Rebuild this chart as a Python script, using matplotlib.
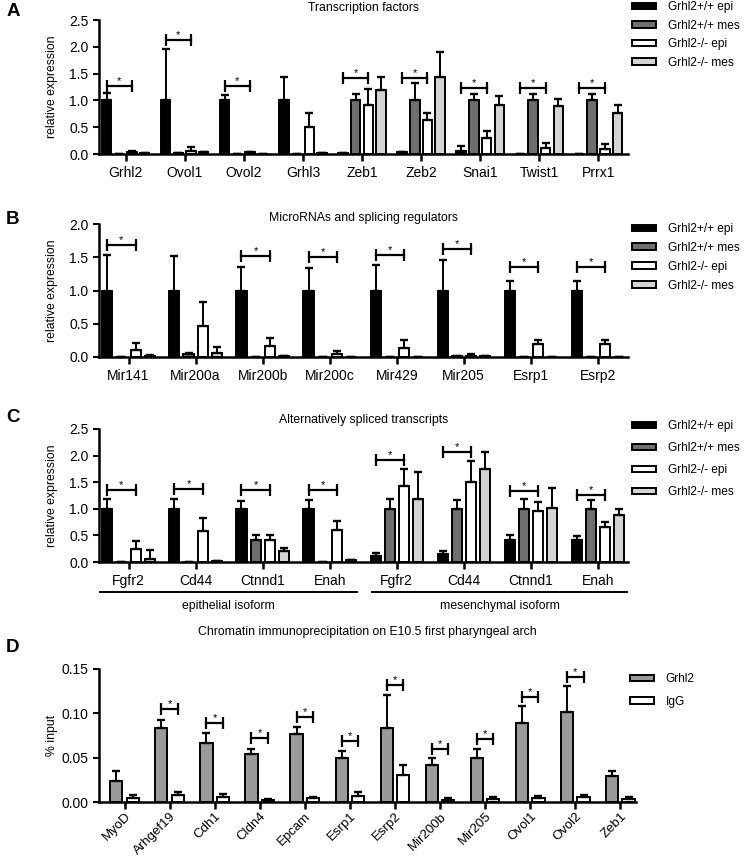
import numpy as np
import matplotlib
matplotlib.use("Agg")
import matplotlib.pyplot as plt

plt.rcParams['font.family'] = ['Liberation Sans', 'DejaVu Sans']

# ---------------- data ----------------
series_names = ['Grhl2+/+ epi', 'Grhl2+/+ mes', 'Grhl2-/- epi', 'Grhl2-/- mes']
series_colors = ['#000000', '#6e6e6e', '#ffffff', '#d4d4d4']

# A - transcription factors
a_labels = ['Grhl2', 'Ovol1', 'Ovol2', 'Grhl3', 'Zeb1', 'Zeb2', 'Snai1', 'Twist1', 'Prrx1']
a_epi_wt = [1.0, 1.0, 1.0, 1.0, 0.01, 0.03, 0.065, 0.005, 0.005]
a_epi_wt_err = [0.13, 0.95, 0.10, 0.43, 0.005, 0.01, 0.075, 0.0, 0.0]
a_mes_wt = [0.005, 0.02, 0.0, 0.0, 1.0, 1.0, 1.0, 1.0, 1.0]
a_mes_wt_err = [0.0, 0.005, 0.0, 0.0, 0.12, 0.33, 0.12, 0.12, 0.12]
a_epi_ko = [0.045, 0.05, 0.03, 0.51, 0.91, 0.63, 0.29, 0.115, 0.10]
a_epi_ko_err = [0.01, 0.08, 0.005, 0.26, 0.31, 0.13, 0.14, 0.085, 0.08]
a_mes_ko = [0.01, 0.03, 0.005, 0.02, 1.19, 1.43, 0.91, 0.90, 0.76]
a_mes_ko_err = [0.0, 0.005, 0.0, 0.005, 0.25, 0.47, 0.17, 0.12, 0.16]
a_sig = [1.26, 2.13, 1.26, None, 1.42, 1.42, 1.23, 1.23, 1.23]

# B - microRNAs and splicing regulators
b_labels = ['Mir141', 'Mir200a', 'Mir200b', 'Mir200c', 'Mir429', 'Mir205', 'Esrp1', 'Esrp2']
b_epi_wt = [1.0, 1.0, 1.0, 1.0, 1.0, 1.0, 1.0, 1.0]
b_epi_wt_err = [0.53, 0.52, 0.35, 0.34, 0.38, 0.46, 0.15, 0.14]
b_mes_wt = [0.005, 0.04, 0.005, 0.0, 0.0, 0.015, 0.0, 0.0]
b_mes_wt_err = [0.0, 0.02, 0.0, 0.0, 0.0, 0.005, 0.0, 0.0]
b_epi_ko = [0.10, 0.46, 0.17, 0.04, 0.14, 0.015, 0.19, 0.19]
b_epi_ko_err = [0.11, 0.37, 0.11, 0.045, 0.11, 0.025, 0.07, 0.07]
b_mes_ko = [0.02, 0.065, 0.01, 0.0, 0.0, 0.01, 0.005, 0.005]
b_mes_ko_err = [0.005, 0.085, 0.0, 0.0, 0.0, 0.0, 0.0, 0.0]
b_sig = [1.68, None, 1.52, 1.50, 1.54, 1.62, 1.35, 1.35]

# C - alternatively spliced transcripts
c_labels = ['Fgfr2', 'Cd44', 'Ctnnd1', 'Enah', 'Fgfr2', 'Cd44', 'Ctnnd1', 'Enah']
c_epi_wt = [1.0, 1.0, 1.0, 1.0, 0.12, 0.15, 0.41, 0.42]
c_epi_wt_err = [0.19, 0.18, 0.15, 0.16, 0.05, 0.05, 0.09, 0.06]
c_mes_wt = [0.0, 0.0, 0.41, 0.005, 1.0, 1.0, 1.0, 1.0]
c_mes_wt_err = [0.0, 0.0, 0.09, 0.0, 0.19, 0.16, 0.19, 0.16]
c_epi_ko = [0.25, 0.58, 0.41, 0.60, 1.42, 1.51, 0.95, 0.65]
c_epi_ko_err = [0.15, 0.24, 0.09, 0.18, 0.32, 0.39, 0.17, 0.10]
c_mes_ko = [0.06, 0.01, 0.21, 0.03, 1.18, 1.75, 1.01, 0.89]
c_mes_ko_err = [0.16, 0.0, 0.05, 0.0, 0.51, 0.32, 0.39, 0.11]
c_sig = [1.36, 1.38, 1.35, 1.35, 1.92, 2.07, 1.33, 1.26]
c_groups = ['epithelial isoform', 'mesenchymal isoform']

# D - ChIP
d_labels = ['MyoD', 'Arhgef19', 'Cdh1', 'Cldn4', 'Epcam', 'Esrp1', 'Esrp2',
            'Mir200b', 'Mir205', 'Ovol1', 'Ovol2', 'Zeb1']
d_grhl2 = [0.024, 0.083, 0.067, 0.054, 0.077, 0.050, 0.084, 0.042, 0.050, 0.0895, 0.102, 0.029]
d_grhl2_err = [0.011, 0.0095, 0.0105, 0.006, 0.008, 0.007, 0.037, 0.008, 0.010, 0.0185, 0.029, 0.006]
d_igg = [0.004, 0.0075, 0.0053, 0.0026, 0.0045, 0.0068, 0.030, 0.0026, 0.0038, 0.0045, 0.0057, 0.0038]
d_igg_err = [0.0035, 0.0035, 0.004, 0.0012, 0.0012, 0.005, 0.012, 0.0024, 0.0022, 0.0027, 0.002, 0.002]
d_sig = [None, 0.105, 0.0895, 0.072, 0.0955, 0.069, 0.132, 0.060, 0.0714, 0.1186, 0.141, None]
d_names = ['Grhl2', 'IgG']
d_colors = ['#9a9a9a', '#ffffff']

W, H = 745, 857
fig = plt.figure(figsize=(W / 100, H / 100), dpi=100)


def fy(py):
    return 1 - py / H


def style_axes(ax):
    ax.spines[['top', 'right']].set_visible(False)
    ax.spines[['left', 'bottom']].set_linewidth(1.8)
    ax.tick_params(axis='y', width=1.5, length=4, labelsize=10)
    ax.tick_params(axis='x', width=1.8, length=5, labelsize=10)


def sig_bracket(ax, x1, x2, h):
    ax.plot([x1, x2], [h, h], color='black', lw=1.6, marker='|', ms=8, mew=1.6,
            clip_on=False, zorder=5)
    ax.text((x1 + x2) / 2, h, '*', ha='center', va='bottom', fontsize=8)


def four_panel(ax, labels, vals, errs, sig, off, w, ymax):
    x = np.arange(len(labels))
    handles = []
    for i in range(4):
        b = ax.bar(x + (i - 1.5) * off, vals[i], width=w, color=series_colors[i],
                   edgecolor='black', linewidth=1.4,
                   yerr=[np.zeros(len(labels)), errs[i]],
                   error_kw=dict(ecolor='black', elinewidth=1.4, capsize=2.8, capthick=1.7),
                   label=series_names[i])
        handles.append(b)
    for k, h in enumerate(sig):
        if h is not None:
            sig_bracket(ax, k - 1.5 * off, k + 0.5 * off, h)
    ax.set_xticks(x)
    ax.set_xticklabels(labels)
    ax.set_ylim(0, ymax)
    ax.set_yticks(np.arange(0, ymax + 0.01, 0.5))
    ax.yaxis.set_major_formatter(matplotlib.ticker.FormatStrFormatter('%.1f'))
    style_axes(ax)
    return handles


def add_legend(ax, handles, names, top_px, x_px, spacing):
    ax.legend(handles, names, loc='upper left', bbox_to_anchor=(x_px / W, fy(top_px)),
              bbox_transform=fig.transFigure, frameon=False, fontsize=8.6,
              handlelength=2.0, handleheight=0.45, handletextpad=1.0,
              labelspacing=spacing, borderpad=0, borderaxespad=0)


def axes_px(left, top, right, bottom):
    return fig.add_axes([left / W, fy(bottom), (right - left) / W, (bottom - top) / H])


# ---------- A ----------
axA = axes_px(99, 20, 628, 154)
hA = four_panel(axA, a_labels, [a_epi_wt, a_mes_wt, a_epi_ko, a_mes_ko],
                [a_epi_wt_err, a_mes_wt_err, a_epi_ko_err, a_mes_ko_err],
                a_sig, 0.215, 0.16, 2.5)
axA.set_xlim(-0.45, 8.5)
add_legend(axA, hA, series_names, 1, 632, 0.55)

# ---------- B ----------
axB = axes_px(99, 224, 628, 357)
hB = four_panel(axB, b_labels, [b_epi_wt, b_mes_wt, b_epi_ko, b_mes_ko],
                [b_epi_wt_err, b_mes_wt_err, b_epi_ko_err, b_mes_ko_err],
                b_sig, 0.21, 0.15, 2.0)
axB.set_xlim(-0.44, 7.45)
add_legend(axB, hB, series_names, 223, 632, 0.58)

# ---------- C ----------
axC = axes_px(99, 429, 628, 562)
hC = four_panel(axC, c_labels, [c_epi_wt, c_mes_wt, c_epi_ko, c_mes_ko],
                [c_epi_wt_err, c_mes_wt_err, c_epi_ko_err, c_mes_ko_err],
                c_sig, 0.21, 0.15, 2.5)
axC.set_xlim(-0.44, 7.45)
add_legend(axC, hC, series_names, 420, 632, 0.85)
tr = axC.get_xaxis_transform()
for (x1, x2), name in zip([(-0.43, 3.41), (3.63, 7.44)], c_groups):
    axC.plot([x1, x2], [-0.226, -0.226], color='black', lw=1.4, transform=tr, clip_on=False)
    axC.text((x1 + x2) / 2, -0.33, name, transform=tr, ha='center', va='center', fontsize=8.8)

# ---------- D ----------
axD = axes_px(99, 669, 636, 802)
xd = np.arange(len(d_labels))
hD = []
for i, (vals, errs) in enumerate([(d_grhl2, d_grhl2_err), (d_igg, d_igg_err)]):
    b = axD.bar(xd + (i - 0.5) * 0.37, vals, width=0.27, color=d_colors[i],
                edgecolor='black', linewidth=1.4, yerr=[np.zeros(len(vals)), errs],
                error_kw=dict(ecolor='black', elinewidth=1.4, capsize=2.8, capthick=1.7))
    hD.append(b)
for k, h in enumerate(d_sig):
    if h is not None:
        sig_bracket(axD, k - 0.185, k + 0.185, h)
axD.set_xticks(xd)
axD.set_xlim(-0.57, 11.35)
axD.set_ylim(0, 0.15)
axD.set_yticks([0, 0.05, 0.10, 0.15])
axD.yaxis.set_major_formatter(matplotlib.ticker.FormatStrFormatter('%.2f'))
style_axes(axD)
axD.set_xticklabels(d_labels, rotation=45, ha='right', rotation_mode='anchor', fontsize=9.5)
axD.tick_params(axis='x', pad=1)
add_legend(axD, hD, d_names, 673, 630, 0.9)

# ---------- titles, labels, panel letters ----------
titles = ['Transcription factors', 'MicroRNAs and splicing regulators',
          'Alternatively spliced transcripts',
          'Chromatin immunoprecipitation on E10.5 first pharyngeal arch']
title_y = [8, 218, 420, 632]
title_x = [363.5, 363.5, 363.5, 367.5]
for t, tx, ty in zip(titles, title_x, title_y):
    fig.text(tx / W, fy(ty), t, ha='center', va='center', fontsize=8.8)

for lab, py in zip(['A', 'B', 'C', 'D'], [12, 220, 418, 648]):
    fig.text(13 / W, fy(py), lab, ha='center', va='center', fontsize=13.5, fontweight='bold')

for ylab, (top, bot) in zip(['relative expression'] * 3 + ['% input'],
                           [(20, 154), (224, 357), (429, 562), (669, 802)]):
    fig.text(52 / W, fy((top + bot) / 2), ylab, rotation=90, ha='center', va='center',
             fontsize=8.8)

fig.savefig('out.png', dpi=100)
